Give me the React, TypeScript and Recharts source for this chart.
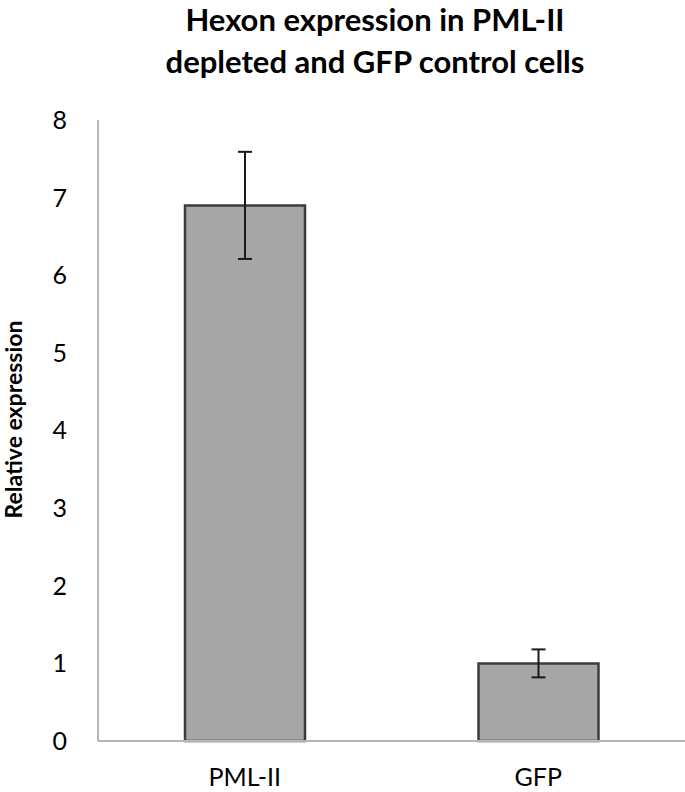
import React from 'react';
import { BarChart, Bar, XAxis, YAxis, ErrorBar } from 'recharts';

const categories = ['PML-II', 'GFP'];
const values = [6.9, 1.0];
const errors = [0.69, 0.18];
const yTicks = [0, 1, 2, 3, 4, 5, 6, 7, 8];
const titleLines = ['Hexon expression in PML-II', 'depleted and GFP control cells'];
const yLabel = 'Relative expression';

const data = categories.map((c, i) => ({ name: c, value: values[i], err: errors[i] }));

const FONT = 'Lato, "Open Sans", sans-serif';

const YLabel = (props: any) => {
  const vb = props.viewBox || {};
  const cy = (vb.y ?? 0) + (vb.height ?? 0) / 2 - 11;
  const cx = 13;
  return (
    <text
      x={cx}
      y={cy}
      transform={`rotate(-90, ${cx}, ${cy})`}
      textAnchor="middle"
      dominantBaseline="central"
      fontFamily={FONT}
      fontWeight={700}
      fontSize={23}
      fill="#000"
    >
      {yLabel}
    </text>
  );
};

export default function App() {
  return (
    <div style={{ position: 'absolute', left: 0, top: 0, width: 685, height: 792, background: '#fff' }}>
      <BarChart
        width={685}
        height={792}
        data={data}
        margin={{ top: 120, right: 0, bottom: 0, left: 0 }}
        barSize={120}
      >
        <XAxis
          dataKey="name"
          axisLine={{ stroke: '#b5b5b5', strokeWidth: 2 }}
          tickLine={false}
          tickSize={0}
          tickMargin={27}
          tick={{ fill: '#000', fontSize: 25, fontFamily: FONT }}
          height={51}
        />
        <YAxis
          domain={[0, 8]}
          ticks={yTicks}
          interval={0}
          width={98}
          axisLine={{ stroke: '#b5b5b5', strokeWidth: 2 }}
          tickLine={false}
          tickSize={0}
          tickMargin={31}
          tick={{ fill: '#000', fontSize: 25, fontFamily: FONT }}
          label={<YLabel />}
        />
        <Bar dataKey="value" fill="#a6a6a6" stroke="#3c3c3c" strokeWidth={2.5} isAnimationActive={false}>
          <ErrorBar dataKey="err" width={7} stroke="#1a1a1a" strokeWidth={2} direction="y" />
        </Bar>
      </BarChart>
      <svg width={685} height={100} style={{ position: 'absolute', left: 0, top: 0, overflow: 'visible' }}>
        {titleLines.map((t, i) => (
          <text
            key={i}
            x={375}
            y={31 + i * 42}
            textAnchor="middle"
            fontFamily={FONT}
            fontWeight={700}
            fontSize={31}
            fill="#000"
          >
            {t}
          </text>
        ))}
      </svg>
    </div>
  );
}
